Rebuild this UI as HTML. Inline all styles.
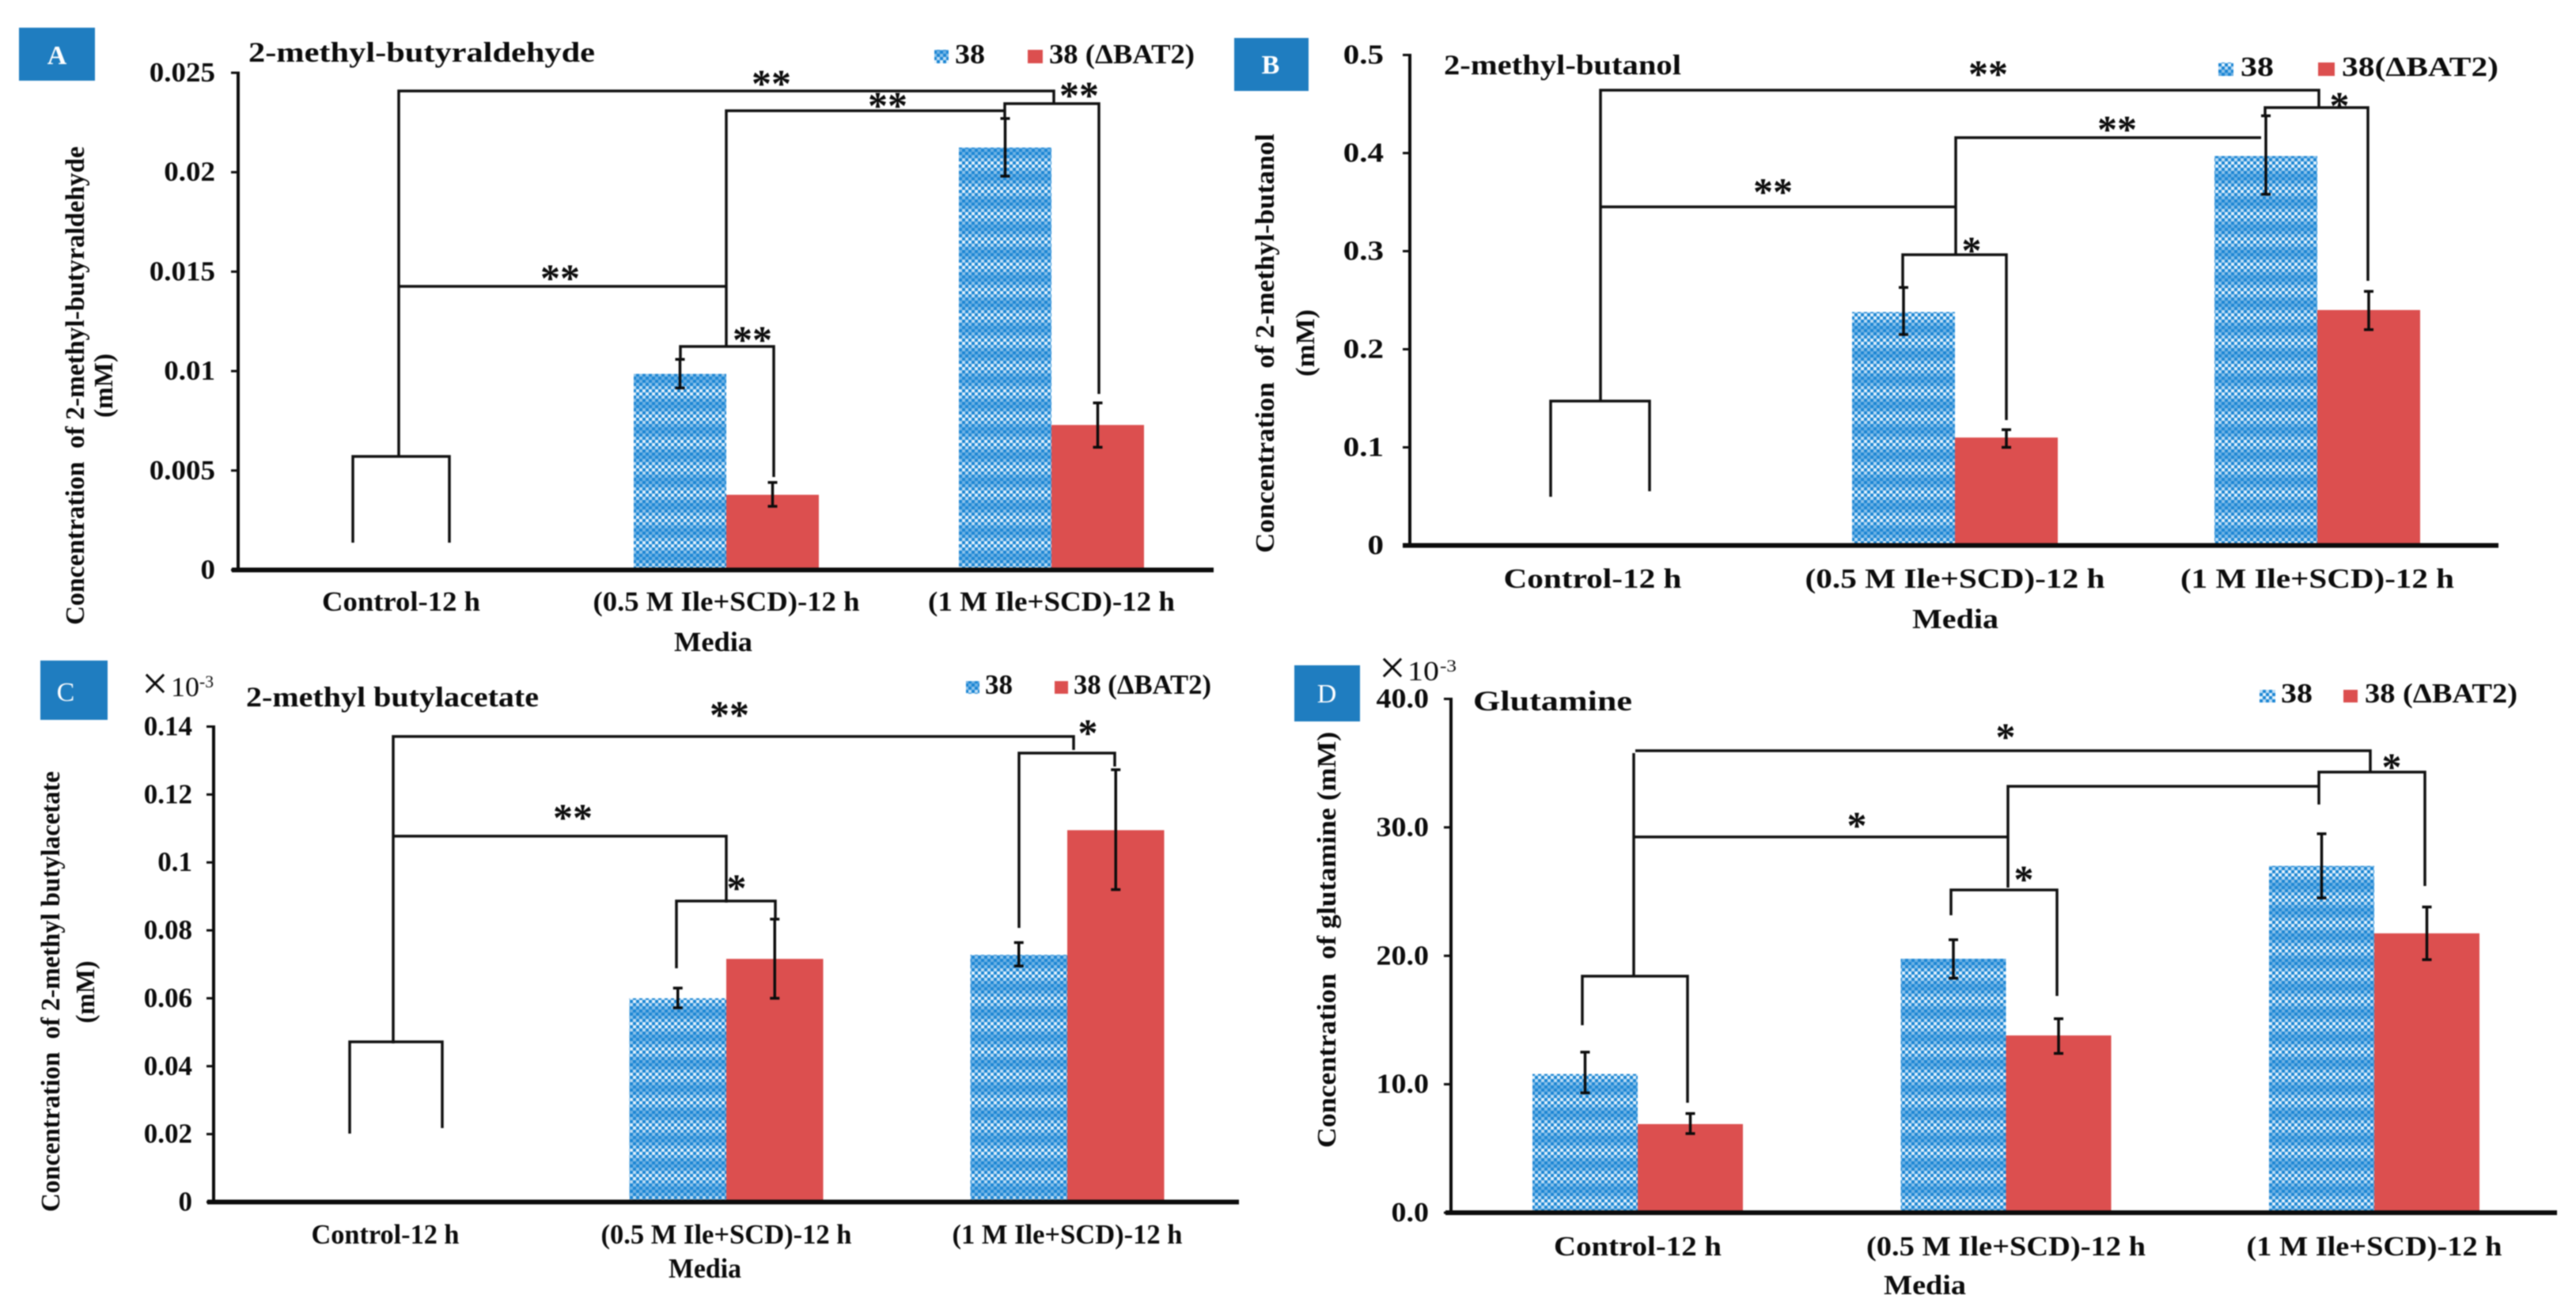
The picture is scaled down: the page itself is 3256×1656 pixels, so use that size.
<!DOCTYPE html>
<html lang="en">
<head>
<meta charset="utf-8">
<title>Metabolite concentration panels</title>
<style>
  html, body { margin: 0; padding: 0; background: #fff; }
  svg { display: block; filter: blur(0.8px); }
  text { font-family: "Liberation Serif", "DejaVu Serif", serif; font-weight: bold; fill: #0c0c0c; }
  .reg { font-weight: normal; }
  .lab { fill: #fff; text-anchor: middle; font-size: 34px; }
  .star { font-size: 50px; text-anchor: middle; }
  .br { fill: none; stroke: #111; stroke-width: 3.5; }
</style>
</head>
<body>
<svg id="figure" xmlns="http://www.w3.org/2000/svg" width="3256" height="1656" viewBox="0 0 3256 1656">
  <defs>
    <pattern id="dots" patternUnits="userSpaceOnUse" width="8" height="32">
      <rect width="8" height="32" fill="#1c86d4"/>
      <rect x="0" y="0" width="4" height="4" fill="#6db1e4"/>
      <rect x="4" y="4" width="4" height="4" fill="#8cc2ea"/>
      <rect x="0" y="8" width="4" height="4" fill="#bcdcf4"/>
      <rect x="4" y="12" width="4" height="4" fill="#e2f1fb"/>
      <rect x="0" y="16" width="4" height="4" fill="#e2f1fb"/>
      <rect x="4" y="20" width="4" height="4" fill="#bcdcf4"/>
      <rect x="0" y="24" width="4" height="4" fill="#8cc2ea"/>
      <rect x="4" y="28" width="4" height="4" fill="#6db1e4"/>
    </pattern>
  </defs>
  <rect width="3256" height="1656" fill="#fff"/>

  <!-- Panel A -->
  <g id="panel-a">
    <rect x="24" y="35" width="96" height="67" fill="#1f7dc0"/>
    <text class="lab" x="72" y="81">A</text>
    <text x="314" y="78" font-size="36" textLength="438" lengthAdjust="spacingAndGlyphs">2-methyl-butyraldehyde</text>
    <rect x="1181" y="63" width="18" height="17" fill="url(#dots)"/>
    <text x="1207" y="80" font-size="35" textLength="38" lengthAdjust="spacingAndGlyphs">38</text>
    <rect x="1299" y="63" width="19" height="17" fill="#dc4f4f"/>
    <text x="1326" y="80" font-size="35" textLength="184" lengthAdjust="spacingAndGlyphs">38 (ΔBAT2)</text>
    <text transform="translate(106,790) rotate(-90)" font-size="34" textLength="605" lengthAdjust="spacingAndGlyphs">Concentration&#160; of 2-methyl-butyraldehyde</text>
    <text transform="translate(142,528) rotate(-90)" font-size="34" textLength="81" lengthAdjust="spacingAndGlyphs">(mM)</text>
    <text x="852" y="823" font-size="35" textLength="99" lengthAdjust="spacingAndGlyphs">Media</text>
    <g id="marks-a"></g>
    <g>
      <path class="br" d="M446 686 V577 H568 V686"/>
      <path class="br" d="M504 577 V115 H1332 V131"/>
      <path class="br" d="M1270 149 V131 H1389 V498"/>
      <path class="br" d="M918 438 V140 H1270"/>
      <path class="br" d="M860 454 V438 H978 V603"/>
      <path class="br" d="M504 362 H918"/>
    </g>
    <text class="star" x="975" y="122">**</text>
    <text class="star" x="1122" y="150">**</text>
    <text class="star" x="1364" y="137">**</text>
    <text class="star" x="708" y="368">**</text>
    <text class="star" x="951" y="446">**</text>
  </g>

  <!-- Panel B -->
  <g id="panel-b">
    <rect x="1560" y="48" width="94" height="67" fill="#1f7dc0"/>
    <text class="lab" x="1606" y="93">B</text>
    <text x="1825" y="94" font-size="36" textLength="300" lengthAdjust="spacingAndGlyphs">2-methyl-butanol</text>
    <rect x="2804" y="79" width="19" height="17" fill="url(#dots)"/>
    <text x="2832" y="96" font-size="35" textLength="42" lengthAdjust="spacingAndGlyphs">38</text>
    <rect x="2930" y="79" width="21" height="17" fill="#dc4f4f"/>
    <text x="2960" y="96" font-size="35" textLength="198" lengthAdjust="spacingAndGlyphs">38(ΔBAT2)</text>
    <text transform="translate(1610,699) rotate(-90)" font-size="34" textLength="530" lengthAdjust="spacingAndGlyphs">Concentration&#160; of 2-methyl-butanol</text>
    <text transform="translate(1661,476) rotate(-90)" font-size="34" textLength="85" lengthAdjust="spacingAndGlyphs">(mM)</text>
    <text x="2417" y="794" font-size="35" textLength="109" lengthAdjust="spacingAndGlyphs">Media</text>
    <g id="marks-b"></g>
    <g>
      <path class="br" d="M1960 628 V507 H2085 V621"/>
      <path class="br" d="M2023 507 V114 H2931 V136"/>
      <path class="br" d="M2863 146 V136 H2993 V355"/>
      <path class="br" d="M2472 322 V174 H2858"/>
      <path class="br" d="M2405 363 V322 H2536 V531"/>
      <path class="br" d="M2023 261.5 H2472"/>
    </g>
    <text class="star" x="2513" y="110">**</text>
    <text class="star" x="2676" y="180">**</text>
    <text class="star" x="2241" y="259">**</text>
    <text class="star" x="2957" y="150">*</text>
    <text class="star" x="2492" y="333">*</text>
  </g>

  <!-- Panel C -->
  <g id="panel-c">
    <rect x="51" y="835" width="85" height="75" fill="#1f7dc0"/>
    <text class="lab reg" x="83" y="886">C</text>
    <text class="reg" x="179" y="884" font-size="60">×</text>
    <text class="reg" x="216" y="880" font-size="35" textLength="36" lengthAdjust="spacingAndGlyphs">10</text>
    <text class="reg" x="252" y="869" font-size="22" textLength="18" lengthAdjust="spacingAndGlyphs">-3</text>
    <text x="311" y="893" font-size="36" textLength="370" lengthAdjust="spacingAndGlyphs">2-methyl butylacetate</text>
    <rect x="1221" y="861" width="17" height="16" fill="url(#dots)"/>
    <text x="1245" y="877" font-size="35" textLength="35" lengthAdjust="spacingAndGlyphs">38</text>
    <rect x="1333" y="861" width="17" height="16" fill="#dc4f4f"/>
    <text x="1357" y="877" font-size="35" textLength="174" lengthAdjust="spacingAndGlyphs">38 (ΔBAT2)</text>
    <text transform="translate(75,1532) rotate(-90)" font-size="34" textLength="557" lengthAdjust="spacingAndGlyphs">Concentration&#160; of 2-methyl butylacetate</text>
    <text transform="translate(119,1293.5) rotate(-90)" font-size="34" textLength="79" lengthAdjust="spacingAndGlyphs">(mM)</text>
    <text x="845" y="1615" font-size="35" textLength="92" lengthAdjust="spacingAndGlyphs">Media</text>
    <g id="marks-c"></g>
    <g>
      <path class="br" d="M442 1433 V1317 H559 V1426"/>
      <path class="br" d="M497 1319 V931 H1357 V948"/>
      <path class="br" d="M1288 1173 V952 H1409 V969"/>
      <path class="br" d="M497 1057 H918 V1141"/>
      <path class="br" d="M855 1224 V1139 H980 V1161"/>
    </g>
    <text class="star" x="922" y="920">**</text>
    <text class="star" x="1375" y="943">*</text>
    <text class="star" x="724" y="1050">**</text>
    <text class="star" x="931" y="1139">*</text>
  </g>

  <!-- Panel D -->
  <g id="panel-d">
    <rect x="1636" y="841" width="83" height="71" fill="#1f7dc0"/>
    <text class="lab reg" x="1677" y="888">D</text>
    <text class="reg" x="1743" y="864" font-size="60">×</text>
    <text class="reg" x="1779" y="860" font-size="35" textLength="40" lengthAdjust="spacingAndGlyphs">10</text>
    <text class="reg" x="1820" y="849" font-size="22" textLength="21" lengthAdjust="spacingAndGlyphs">-3</text>
    <text x="1862" y="898" font-size="36" textLength="201" lengthAdjust="spacingAndGlyphs">Glutamine</text>
    <rect x="2856" y="872" width="20" height="16" fill="url(#dots)"/>
    <text x="2883" y="888" font-size="35" textLength="40" lengthAdjust="spacingAndGlyphs">38</text>
    <rect x="2962" y="872" width="18" height="16" fill="#dc4f4f"/>
    <text x="2989" y="888" font-size="35" textLength="193" lengthAdjust="spacingAndGlyphs">38 (ΔBAT2)</text>
    <text transform="translate(1688,1451) rotate(-90)" font-size="34" textLength="526" lengthAdjust="spacingAndGlyphs">Concentration&#160; of glutamine (mM)</text>
    <text x="2381" y="1636" font-size="35" textLength="104" lengthAdjust="spacingAndGlyphs">Media</text>
    <g id="marks-d"></g>
    <g>
      <path class="br" d="M2000 1296 V1234 H2133 V1394"/>
      <path class="br" d="M2065 1234 V952"/>
      <path class="br" d="M2067 949 H2996 V976"/>
      <path class="br" d="M2931 1017 V976 H3065 V1120"/>
      <path class="br" d="M2538 1122 V994 H2931"/>
      <path class="br" d="M2466 1157 V1125 H2600 V1259"/>
      <path class="br" d="M2065 1058 H2538"/>
    </g>
    <text class="star" x="2535" y="948">*</text>
    <text class="star" x="3023" y="986">*</text>
    <text class="star" x="2347" y="1060">*</text>
    <text class="star" x="2558" y="1128">*</text>
  </g>
</svg>

<script>
const categories = ["Control-12 h", "(0.5 M Ile+SCD)-12 h", "(1 M Ile+SCD)-12 h"];

const ticksA = ["0", "0.005", "0.01", "0.015", "0.02", "0.025"];
const blueA = [0, 0.00986, 0.02124];
const blueHiA = [0, 0.01059, 0.0227];
const blueLoA = [0, 0.00915, 0.0198];
const redA = [0, 0.00378, 0.00729];
const redHiA = [0, 0.0044, 0.0084];
const redLoA = [0, 0.0032, 0.00617];

const ticksB = ["0", "0.1", "0.2", "0.3", "0.4", "0.5"];
const blueB = [0, 0.238, 0.397];
const blueHiB = [0, 0.263, 0.438];
const blueLoB = [0, 0.215, 0.358];
const redB = [0, 0.11, 0.24];
const redHiB = [0, 0.118, 0.259];
const redLoB = [0, 0.1, 0.22];

const ticksC = ["0", "0.02", "0.04", "0.06", "0.08", "0.1", "0.12", "0.14"];
const blueC = [0, 0.06, 0.0728];
const blueHiC = [0, 0.063, 0.0764];
const blueLoC = [0, 0.0572, 0.0695];
const redC = [0, 0.0716, 0.1095];
const redHiC = [0, 0.0833, 0.1273];
const redLoC = [0, 0.06, 0.092];

const ticksD = ["0.0", "10.0", "20.0", "30.0", "40.0"];
const blueD = [10.8, 19.77, 27.0];
const blueHiD = [12.5, 21.25, 29.5];
const blueLoD = [9.33, 18.26, 24.5];
const redD = [6.9, 13.8, 21.75];
const redHiD = [7.72, 15.1, 23.8];
const redLoD = [6.16, 12.4, 19.7];

const NS = "http://www.w3.org/2000/svg";

function addLine(parent, x1, y1, x2, y2, width, name) {
  const el = document.createElementNS(NS, "line");
  el.setAttribute("x1", x1);
  el.setAttribute("y1", y1);
  el.setAttribute("x2", x2);
  el.setAttribute("y2", y2);
  el.setAttribute("stroke", "#0c0c0c");
  el.setAttribute("stroke-width", width);
  
  
  parent.appendChild(el);
}

function addLabel(parent, x, y, str, length, name) {
  const el = document.createElementNS(NS, "text");
  el.setAttribute("x", x);
  el.setAttribute("y", y);
  el.setAttribute("font-size", "35");
  el.setAttribute("textLength", length);
  el.setAttribute("lengthAdjust", "spacingAndGlyphs");
  el.textContent = str;
  
  
  parent.appendChild(el);
}

function addBar(parent, x, y, w, h, fill, name) {
  const el = document.createElementNS(NS, "rect");
  el.setAttribute("x", x);
  el.setAttribute("y", y);
  el.setAttribute("width", w);
  el.setAttribute("height", h);
  el.setAttribute("fill", fill);
  
  
  parent.appendChild(el);
}

function drawPanel(target, cfg, ticks, blue, blueHi, blueLo, red, redHi, redLo) {
  const g = document.getElementById(target);
  const axisMax = parseFloat(ticks[ticks.length - 1]);
  const yScale = v => cfg.yBase - v * (cfg.yBase - cfg.yTop) / axisMax;
  const xScale = i => cfg.x0 + cfg.step * i;

  blue.forEach((v, i) => {
    if (v > 0) addBar(g, xScale(i) - cfg.barW, yScale(v), cfg.barW, yScale(0) - yScale(v), "url(#dots)", "bar-38");
    if (red[i] > 0) addBar(g, xScale(i), yScale(red[i]), cfg.barW, yScale(0) - yScale(red[i]), "#dc4f4f", "bar-38-bat2");
  });

  function errorBar(cx, hi, lo) {
    addLine(g, cx, yScale(hi), cx, yScale(lo), 3.5, "error-bar");
    addLine(g, cx - 6, yScale(hi), cx + 6, yScale(hi), 3.5, "error-cap-top");
    addLine(g, cx - 6, yScale(lo), cx + 6, yScale(lo), 3.5, "error-cap-bottom");
  }
  blue.forEach((v, i) => {
    if (v > 0) errorBar(xScale(i) - cfg.barW / 2, blueHi[i], blueLo[i]);
    if (red[i] > 0) errorBar(xScale(i) + cfg.barW / 2, redHi[i], redLo[i]);
  });

  addLine(g, cfg.axisX, cfg.yBase, cfg.axisX, cfg.yTop - 1.5, 4, "y-axis-line");
  addLine(g, cfg.xLeft, cfg.yBase, cfg.xRight, cfg.yBase, 6, "x-axis-line");

  ticks.forEach(t => {
    const y = yScale(parseFloat(t));
    addLine(g, cfg.axisX - 9, y, cfg.axisX, y, 3, "y-tick");
    const dots = t.split(".").length - 1;
    const digits = t.length - dots;
    const w = (digits * 0.5 + dots * 0.25) * cfg.tickEm;
    addLabel(g, cfg.tickRight - w, y + 11, t, w, "y-tick-label");
  });

  categories.forEach((c, i) => {
    addLabel(g, xScale(i) - cfg.catW[i] / 2, cfg.catY, c, cfg.catW[i], "x-category-label");
  });
}

drawPanel("marks-a",
  { x0: 507, step: 411, barW: 117, yBase: 720.5, yTop: 92, axisX: 301, xLeft: 293, xRight: 1534, tickRight: 272, tickEm: 37, catY: 772, catW: [200, 337, 312] },
  ticksA, blueA, blueHiA, blueLoA, redA, redHiA, redLoA);

drawPanel("marks-b",
  { x0: 2013, step: 458, barW: 130, yBase: 689.5, yTop: 69.5, axisX: 1782, xLeft: 1773, xRight: 3158, tickRight: 1749, tickEm: 41, catY: 743, catW: [225, 379, 346] },
  ticksB, blueB, blueHiB, blueLoB, redB, redHiB, redLoB);

drawPanel("marks-c",
  { x0: 487, step: 431, barW: 122.5, yBase: 1519.5, yTop: 918.5, axisX: 270, xLeft: 262, xRight: 1566, tickRight: 243, tickEm: 35, catY: 1572, catW: [187, 317, 291] },
  ticksC, blueC, blueHiC, blueLoC, redC, redHiC, redLoC);

drawPanel("marks-d",
  { x0: 2070, step: 465.5, barW: 133, yBase: 1533, yTop: 883.5, axisX: 1834, xLeft: 1827, xRight: 3232, tickRight: 1806, tickEm: 38, catY: 1587, catW: [212, 353, 323] },
  ticksD, blueD, blueHiD, blueLoD, redD, redHiD, redLoD);
</script>
</body>
</html>
